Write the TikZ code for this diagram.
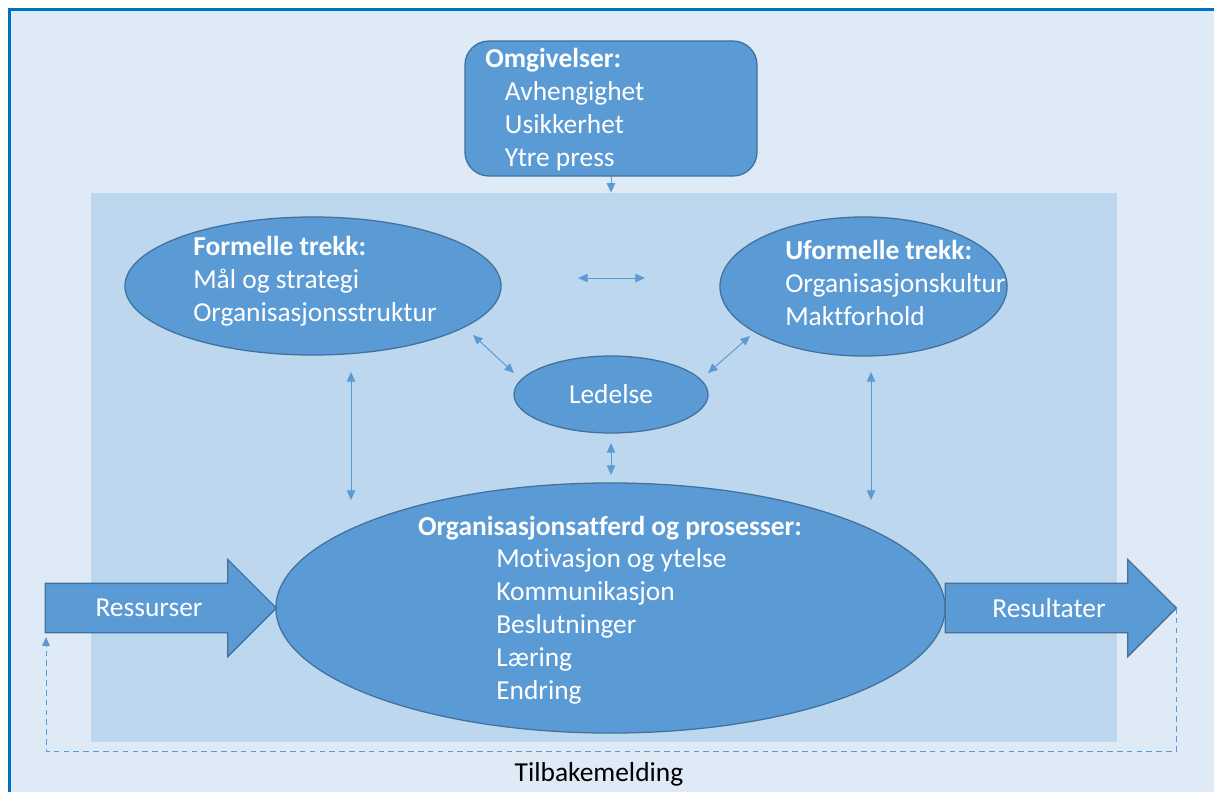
\documentclass[tikz,border=0pt]{standalone}
\usepackage{fontspec}
\setmainfont{Carlito}[Ligatures=NoCommon]
\usetikzlibrary{arrows.meta,shapes.geometric,shapes.arrows}
\definecolor{boxblue}{HTML}{5B9BD5}
\definecolor{boxedge}{HTML}{41719C}
\definecolor{innerblue}{HTML}{BDD7EE}
\definecolor{outerblue}{HTML}{DEEAF6}
\definecolor{frameblue}{HTML}{0070C0}

\begin{document}
\begin{tikzpicture}[x=0.025cm, y=-0.025cm, font=\fontsize{19.5}{23.5}\selectfont,
  part/.style={draw=boxedge, fill=boxblue, line width=0.9pt, inner sep=0pt, outer sep=0pt},
  oval/.style={part, ellipse},
  bigarr/.style={part, single arrow, inner xsep=0pt, inner ysep=0.6cm, single arrow head extend=0.6cm, minimum height=5.775cm, minimum width=2.4cm},
  txt/.style={text=white, align=left, inner sep=0pt},
  dbl/.style={{Triangle[length=2.4mm,width=2.1mm]}-{Triangle[length=2.4mm,width=2.1mm]}, boxblue, line width=0.7pt},
  one/.style={-{Triangle[length=2.4mm,width=2.1mm]}, boxblue, line width=0.7pt},
  fb/.style={-{Triangle[length=2.2mm,width=1.9mm]}, boxblue, line width=0.7pt, dash pattern=on 4pt off 3pt}]
\useasboundingbox (0,0) rectangle (1214,791);
\fill[white] (0,0) rectangle (1214,791);
% frame and inner area
\draw[frameblue, fill=outerblue, line width=2.1pt] (9.5,9.5) rectangle (1240,820);
\node[fill=innerblue, minimum width=25.65cm, minimum height=13.725cm, inner sep=0pt] (org) at (604,467.5) {};
% boxes
\node[part, rounded corners=0.6cm, minimum width=7.3cm, minimum height=3.375cm] (omg) at (611,108.5) {};
\node[txt, anchor=west] (omgt) at (485,110) {\textbf{Omgivelser:}\\\hspace*{14pt}Avhengighet\\\hspace*{14pt}Usikkerhet\\\hspace*{14pt}Ytre press};
\node[oval, minimum width=9.4cm, minimum height=3.45cm] (form) at (313,286) {};
\node[txt, anchor=west] (formt) at (193,281) {\textbf{Formelle trekk:}\\Mål og strategi\\Organisasjonsstruktur};
\node[oval, minimum width=7.175cm, minimum height=3.475cm] (ufor) at (863.5,286.5) {};
\node[txt, anchor=west] (ufort) at (785,283) {\textbf{Uformelle trekk:}\\Organisasjonskultur\\Maktforhold};
\node[oval, minimum width=4.85cm, minimum height=1.925cm, text=white] (led) at (611,394.5) {Ledelse};
\node[oval, minimum width=16.725cm, minimum height=6.25cm] (atf) at (610.5,608) {};
\node[txt] (atft) at (610,528) {\textbf{Organisasjonsatferd og prosesser:}};
\node[txt, anchor=west] (atfl) at (496,626) {Motivasjon og ytelse\\Kommunikasjon\\Beslutninger\\Læring\\Endring};
\node[bigarr] (ress) at (148.5,608) {};
\node[txt] (resst) at (149,608) {Ressurser};
\node[bigarr] (resu) at (1048.5,608) {};
\node[txt] (resut) at (1049,608) {Resultater};
\node[inner sep=0pt] (tilb) at (599,774) {Tilbakemelding};
% arrow ends
\coordinate (h1) at (578,278); \coordinate (h2) at (645,278);
\coordinate (fl1) at (473,335); \coordinate (fl2) at (514,373);
\coordinate (ul1) at (750,336); \coordinate (ul2) at (708,373);
\coordinate (la1) at (611,443); \coordinate (la2) at (611,475);
\coordinate (va1) at (351,372); \coordinate (va2) at (351,500);
\coordinate (vb1) at (871,372); \coordinate (vb2) at (871,500);
\coordinate (fbend) at (46,637);
% connectors
\draw[one] (omg.south) -- (omg.south |- org.north);
\draw[dbl] (h1) -- (h2);
\draw[dbl] (fl1) -- (fl2);
\draw[dbl] (ul1) -- (ul2);
\draw[dbl] (la1) -- (la2);
\draw[dbl] (va1) -- (va2);
\draw[dbl] (vb1) -- (vb2);
\draw[fb] (resu.tip) -- (resu.tip |- 0,751) -- (fbend |- 0,751) -- (fbend);
\end{tikzpicture}
\end{document}
